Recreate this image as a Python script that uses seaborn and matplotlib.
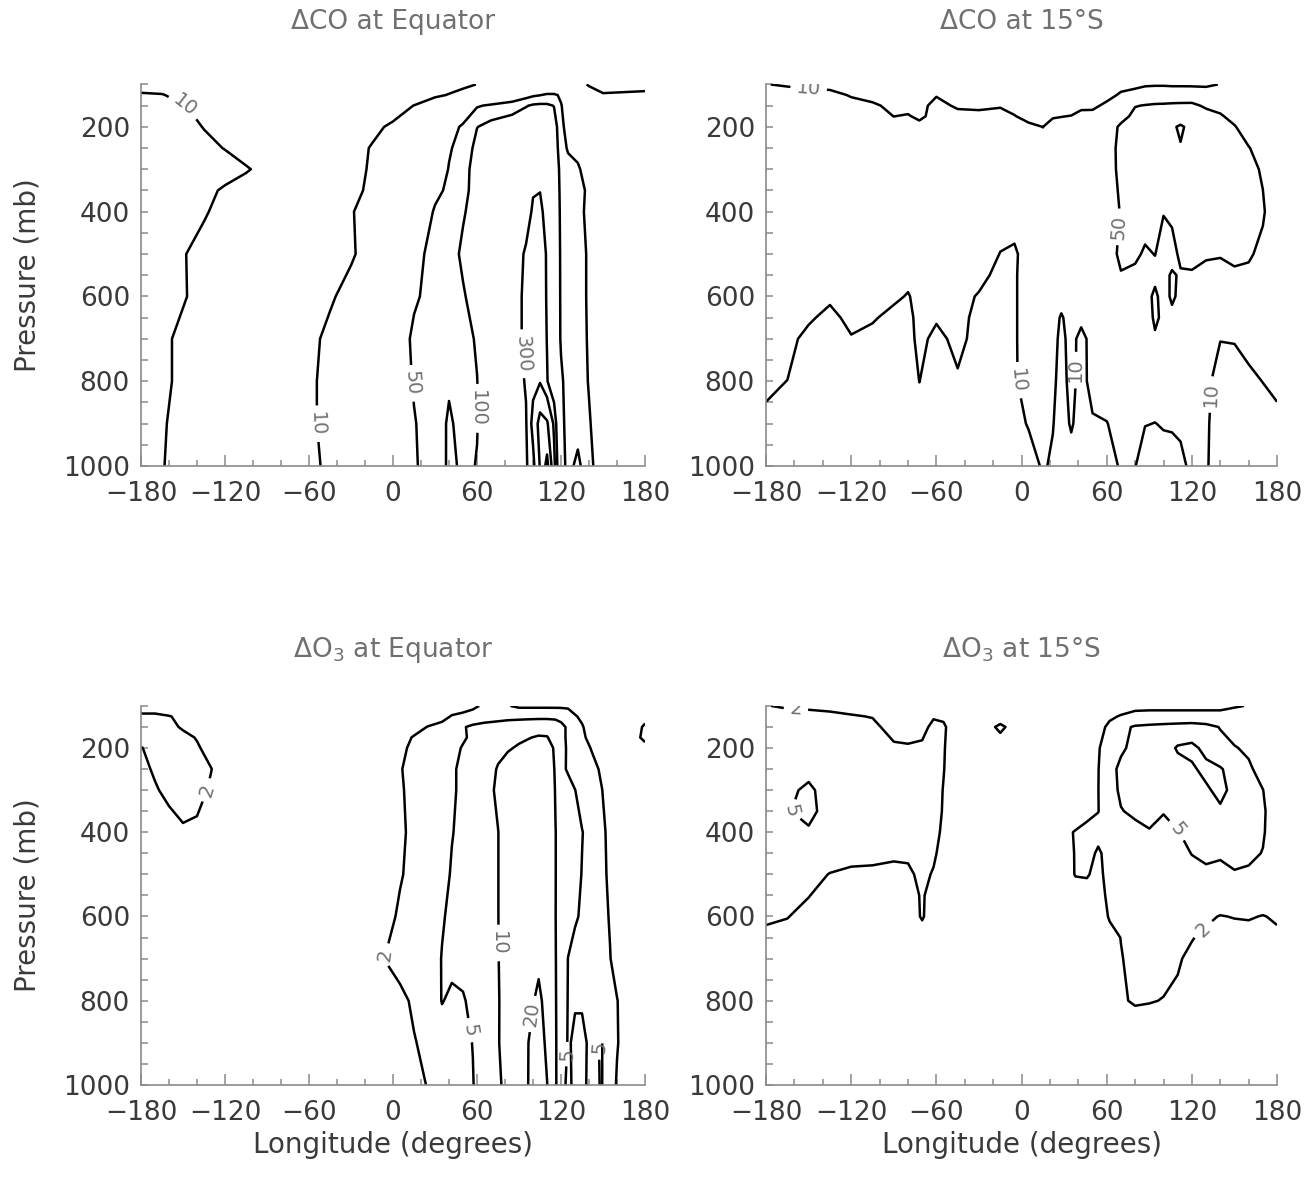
import numpy as np
import matplotlib
matplotlib.use("Agg")
import matplotlib.pyplot as plt
from matplotlib.ticker import FixedLocator, MultipleLocator
import seaborn as sns

# ---------------------------------------------------------------------------
# Delta CO along the Equator (ppbv), longitude x pressure section
# ---------------------------------------------------------------------------
lon_co_eq = [-180, -165, -150, -135, -120, -105, -90, -60, -45, -30, -15, 0, 15, 30,
             40, 50, 60, 70, 85, 95, 100, 105, 110, 115, 120, 125, 132, 140, 150, 180]
pres_co_eq = [100, 125, 150, 200, 250, 300, 350, 400, 500, 600, 700, 800, 900, 1000]
co_eq = [
    [7, 7, 6, 6, 6, 6, 6, 5, 5, 5, 5, 5, 6, 6, 7, 8, 10.2, 13, 14, 18, 20, 22, 22, 18, 14, 13, 12, 9.5, 8, 8.5],
    [11, 10.4, 8, 7, 7, 7, 7, 6, 6, 6, 6.5, 7, 7.5, 8.5, 10.5, 14, 18, 22, 28, 38, 45, 49, 55, 56, 45, 30, 18, 13, 10.5, 11],
    [14, 12, 10.3, 8.5, 7.5, 7, 7, 7, 7, 7, 7.5, 8, 10.1, 18, 28, 40, 47, 55, 70, 95, 110, 115, 112, 98, 52, 35, 25, 20, 16, 14],
    [16, 14, 12, 9.8, 8, 8, 7, 7, 7.5, 8, 9, 10.8, 17, 30, 45, 52, 98, 130, 160, 200, 230, 240, 220, 130, 70, 30, 25, 22, 20, 16],
    [16, 15, 13, 11.5, 9.8, 8, 7, 7, 7.5, 8.5, 10.3, 14, 22, 36, 48, 58, 130, 160, 190, 220, 250, 260, 240, 140, 75, 45, 40, 30, 25, 16],
    [17, 16, 15, 14, 12.5, 10.5, 8.5, 7, 7.5, 8.5, 10.6, 15, 24, 38, 51, 80, 130, 170, 210, 240, 270, 280, 250, 150, 85, 70, 55, 35, 25, 17],
    [17, 16, 14, 11.5, 9.3, 8, 7.5, 7, 7.5, 8.8, 11, 16, 26, 44, 55, 88, 120, 180, 230, 270, 295, 298, 260, 155, 88, 75, 60, 45, 28, 17],
    [17, 15, 13, 10.5, 8.5, 7.5, 7, 7, 7.5, 9.7, 12, 17, 30, 53, 62, 95, 125, 190, 250, 270, 310, 320, 270, 160, 90, 80, 65, 40, 28, 17],
    [16, 13, 10.3, 8.5, 7.5, 7, 7, 7, 8, 9.5, 12, 22, 42, 60, 80, 110, 150, 200, 260, 310, 350, 360, 290, 170, 92, 80, 68, 45, 30, 16],
    [16, 13, 10.4, 8.5, 7.5, 7, 7, 8, 9.5, 11.5, 15, 25, 46, 62, 78, 95, 125, 190, 260, 320, 370, 380, 290, 170, 93, 80, 68, 45, 30, 16],
    [15, 11, 9, 8, 7.5, 7, 7, 9, 11, 15, 22, 32, 56, 65, 75, 85, 105, 180, 260, 320, 400, 420, 295, 170, 94, 80, 70, 46, 30, 15],
    [15, 11, 9, 8, 7.5, 7, 7, 9.2, 11.5, 15, 21, 30, 53, 68, 92, 85, 99, 150, 240, 310, 430, 480, 310, 200, 110, 80, 70, 48, 32, 15],
    [15, 10.5, 8.5, 8, 7.5, 7, 7, 9.2, 11.5, 14, 19, 28, 48, 70, 110, 80, 98, 140, 220, 290, 600, 1300, 1100, 450, 120, 80, 75, 53, 32, 15],
    [15, 10.5, 7, 6, 6, 6, 6, 8, 12, 16, 22, 30, 48, 60, 115, 90, 102, 150, 200, 280, 420, 1050, 2500, 600, 140, 80, 120, 60, 33, 15],
]
co_levels = [10, 50, 100, 300, 500, 1000, 2000]
co_eq_labelled = [10, 50, 100, 300]

# ---------------------------------------------------------------------------
# Delta CO at 15S (ppbv); one vertical profile per longitude
# ---------------------------------------------------------------------------
lon_co_15s = [-180, -165, -150, -135, -120, -105, -90, -80, -72, -60, -45, -30, -15, -5, 5, 15, 22, 28,
              35, 42, 50, 60, 70, 80, 87, 94, 100, 106, 112, 120, 130, 140, 150, 160, 170, 180]
pres_co_15s = [100, 125, 150, 175, 200, 250, 300, 400, 500, 550, 600, 650, 700, 800, 900, 1000]
co_15s_profiles = [
    [10.5, 15, 20, 22, 22, 22, 22, 22, 22, 22, 22, 21, 20, 14, 7, 4],
    [8.4, 20, 22, 22, 22, 22, 22, 22, 22, 22, 22, 21, 20, 9.8, 5, 4],
    [6.3, 20, 22, 22, 22, 22, 22, 22, 22, 22, 20, 14.3, 5, 4, 4, 4],
    [5, 19, 22, 22, 22, 22, 22, 22, 22, 22, 16, 5, 4, 4, 4, 4],
    [5, 8.4, 20, 22, 22, 22, 22, 22, 22, 22, 20, 20, 8.4, 5, 4, 4],
    [5, 5, 13.8, 20, 22, 22, 22, 22, 22, 22, 20, 12.9, 5, 4, 4, 4],
    [4, 5, 6, 9.8, 20, 22, 22, 22, 22, 20, 15.8, 5, 4, 4, 4, 4],
    [4, 5, 5, 11.9, 20, 22, 22, 22, 22, 20, 8.4, 5, 4, 4, 4, 4],
    [4, 4, 5, 6.3, 20, 22, 22, 22, 22, 22, 22, 22, 20, 10.2, 5, 4],
    [5, 8.7, 20, 22, 22, 22, 22, 22, 22, 22, 20, 13.4, 5, 4, 4, 4],
    [4, 5, 7.2, 20, 22, 22, 22, 22, 22, 22, 22, 22, 20, 7.4, 5, 4],
    [4, 5, 6, 20, 22, 22, 22, 22, 22, 20, 8.2, 5, 4, 4, 4, 4],
    [4, 5, 8.4, 20, 22, 22, 22, 20, 9.6, 5, 4, 4, 4, 4, 4, 4],
    [4, 5, 5, 11, 20, 22, 22, 20, 8, 8.5, 8.5, 8.5, 8.5, 8.5, 6, 4],
    [4, 4, 5, 5, 15.8, 22, 22, 22, 20, 20, 20, 20, 20, 18, 11.3, 5],
    [4, 4, 5, 5, 9.8, 20, 22, 22, 22, 22, 22, 20, 20, 18, 15, 12],
    [4, 4, 5, 8.4, 20, 22, 22, 22, 22, 22, 22, 20, 20, 15, 10.8, 8],
    [4, 4, 5, 9.5, 20, 22, 22, 22, 22, 22, 20, 8.4, 6, 5, 5, 5],
    [4, 4, 5, 10.5, 20, 22, 22, 22, 22, 22, 22, 20, 20, 18, 12, 5],
    [4, 4, 6, 20, 22, 22, 22, 22, 22, 22, 22, 18, 5, 5, 5, 4],
    [4, 4, 6.3, 20, 22, 22, 22, 22, 22, 22, 22, 22, 22, 20, 8, 4],
    [4, 5, 15.8, 20, 28, 35, 38, 35, 35, 30, 25, 22, 22, 20, 9.6, 5],
    [5, 13.5, 22, 35, 60, 62, 58, 52, 58, 48, 35, 25, 22, 20, 16, 12],
    [6.3, 20, 48, 65, 75, 80, 80, 70, 58, 42, 30, 25, 22, 20, 18, 10.5],
    [8, 28, 52, 72, 82, 86, 84, 72, 45, 38, 35, 30, 25, 20, 10.5, 5],
    [8.5, 30, 55, 75, 85, 88, 86, 75, 51, 40, 60, 58, 45, 20, 9.8, 5],
    [8.5, 30, 56, 78, 90, 92, 88, 52, 35, 38, 35, 42, 35, 20, 11, 6],
    [8, 30, 58, 80, 95, 95, 90, 62, 35, 56, 58, 40, 30, 20, 12, 5],
    [7.9, 32, 58, 82, 105, 98, 92, 80, 62, 45, 40, 30, 25, 20, 13, 7],
    [7.7, 33, 58, 80, 90, 96, 92, 82, 64, 46, 35, 28, 24, 20, 18, 14],
    [7.9, 22, 45, 65, 78, 85, 88, 80, 55, 40, 30, 22, 18, 15, 13, 12],
    [10.5, 18, 38, 55, 70, 80, 85, 80, 52, 42, 28, 18, 10.5, 5, 4, 4],
    [12, 16, 22, 38, 53, 68, 75, 78, 58, 45, 28, 18, 11, 5, 4, 4],
    [12, 16, 20, 25, 32, 52, 65, 72, 56, 42, 25, 18, 14, 8, 5, 4],
    [12, 16, 20, 22, 25, 35, 45, 56, 40, 30, 24, 20, 16, 10.2, 6, 4],
    [11, 15, 20, 22, 22, 22, 23, 25, 24, 22, 22, 21, 20, 14, 7, 4],
]
co_15s_levels = [10, 50, 100]
co_15s_labelled = [10, 50]

# ---------------------------------------------------------------------------
# Delta O3 along the Equator (ppbv)
# ---------------------------------------------------------------------------
lon_o3_eq = [-180, -170, -160, -150, -140, -130, -120, -60, -15, -5, 5, 15, 25, 35, 42, 50, 57,
             65, 75, 82, 90, 97, 104, 110, 116, 120, 125, 130, 135, 142, 149, 155, 160, 170, 180]
pres_o3_eq = [100, 125, 150, 175, 200, 250, 300, 400, 500, 600, 700, 800, 900, 1000]
o3_eq = [
    [1, 1, 1, 1, 1, 1, 1, 1, 1, 1, 1, 1, 1, 1, 1, 1, 1.5, 2.5, 2.5, 2.1, 1.7, 1.7, 1.7, 1.7, 1.7, 1.7, 1.7, 1.6, 1.5, 1.2, 1, 1, 1, 1, 1],
    [2.6, 2.6, 2.1, 1.6, 1, 1, 1, 1, 1, 1, 1, 1, 1, 1.3, 2.2, 3, 3.5, 3.8, 4, 4.2, 4.3, 4.3, 4.3, 4.3, 4.2, 4, 3.2, 2.1, 1.8, 1.3, 1, 1, 1, 1, 1.5],
    [2.8, 2.8, 2.5, 1.8, 1.2, 1, 1, 1, 1, 1, 1, 1.3, 2.1, 3, 3.8, 4.8, 5.5, 6, 6.5, 6.8, 7, 7.5, 8, 8, 7.5, 6, 4.5, 3.5, 2.1, 1.5, 1, 1, 1, 1.2, 2.3],
    [3, 3, 2.8, 2.5, 1.9, 1.3, 1, 1, 1, 1, 1.3, 2.2, 3, 3.5, 4, 4.7, 5.5, 6.5, 7.5, 8.5, 9.3, 9.8, 10.5, 10.3, 8, 6, 4.5, 3.5, 2.2, 1.7, 1.2, 1, 1, 1.3, 2.5],
    [1.9, 2.8, 3, 3, 2.2, 1.5, 1, 1, 1, 1, 1.6, 2.5, 3.2, 3.6, 4.3, 5.2, 6, 7, 8.5, 9.6, 10.5, 11.5, 12, 11.5, 9.5, 6.5, 4.5, 3.5, 2.7, 1.9, 1.3, 1, 1, 1, 1.5],
    [1.5, 2.3, 2.9, 3, 2.8, 2.05, 1.3, 1, 1, 1.2, 1.9, 2.6, 3.2, 3.8, 4.7, 5.5, 6.2, 7.2, 10.5, 12, 13, 14, 14.5, 14, 9.5, 6, 4.6, 3.8, 3.3, 2.5, 1.8, 1.2, 1, 1, 1],
    [1.2, 1.8, 2.6, 2.9, 2.6, 1.8, 1.2, 1, 1, 1.2, 1.8, 2.6, 3.2, 3.8, 4.7, 5.5, 6.3, 8, 11, 13, 14, 15, 15, 14, 9.8, 8, 6.5, 5.05, 4, 2.7, 2.05, 1.5, 1.1, 1, 1],
    [1, 1, 1.3, 1.8, 1.7, 1.2, 1, 1, 1, 1.1, 1.7, 2.5, 3.2, 4, 4.9, 5.6, 6.5, 8, 9.9, 13, 14.5, 15, 15, 14, 10.1, 8.5, 7, 6, 5.1, 4, 2.3, 1.7, 1.2, 1, 1],
    [1, 1, 1, 1, 1, 1, 1, 1, 1, 1.2, 1.85, 2.6, 3.2, 4.3, 5.2, 6, 7, 8, 9.9, 13, 15, 16, 16, 15, 10.1, 8.5, 7, 6, 4.9, 3.8, 2.3, 1.8, 1.2, 1, 1],
    [1, 1, 1, 1, 1, 1, 1, 1, 1.1, 1.5, 2.3, 2.8, 3.3, 4.8, 5.5, 6.2, 7, 8, 9.9, 13, 15, 17, 17, 16, 10.1, 8, 6.5, 5.4, 4.6, 3.8, 2.5, 1.9, 1.3, 1, 1],
    [1, 1, 1, 1, 1, 1, 1, 1, 1.5, 2.1, 2.8, 3.2, 3.8, 5.1, 5.6, 5.8, 6.5, 8, 9.8, 13, 15, 17, 17.5, 17, 10.2, 8, 4.95, 4, 3.6, 3.2, 2.6, 2.05, 1.5, 1, 1],
    [1, 1, 1, 1, 1, 1, 1, 1, 1, 1.2, 1.6, 2.3, 3.5, 5.1, 4.6, 4.8, 5.6, 7, 9.6, 13, 15, 17, 23, 16, 10.3, 8, 4.85, 4.8, 4.8, 3.5, 3, 2.5, 2.05, 1.2, 1],
    [1, 1, 1, 1, 1, 1, 1, 1, 1, 1, 1.3, 1.9, 2.5, 4, 4.2, 4.5, 5.05, 7, 9.7, 12.5, 14, 20.3, 26, 18, 10.3, 8.5, 4.7, 5.5, 5.5, 4.5, 5.2, 3, 2.1, 1.2, 1],
    [1, 1, 1, 1, 1, 1, 1, 1, 1, 1, 1.2, 1.5, 2.1, 3, 3.8, 4.3, 4.9, 6.5, 9.3, 11.5, 14, 20.5, 28, 20.3, 11, 6, 4.5, 5.6, 5.6, 4.3, 5.2, 3, 1.85, 1.2, 1],
]
o3_eq_levels = [2, 5, 10, 20]
o3_eq_labelled = [2, 5, 10, 20]

# ---------------------------------------------------------------------------
# Delta O3 at 15S (ppbv)
# ---------------------------------------------------------------------------
lon_o3_15s = [-180, -165, -150, -135, -120, -105, -90, -80, -70, -62, -55, -45, -30, -15, 0, 20,
              38, 46, 54, 62, 70, 80, 90, 100, 110, 120, 130, 140, 150, 160, 170, 180]
pres_o3_15s = [100, 125, 150, 200, 250, 300, 350, 400, 450, 500, 550, 600, 650, 700, 800, 900, 1000]
o3_15s = [
    [2.05, 1.85, 1.8, 1.7, 1.6, 1.5, 1.2, 1.2, 1.3, 1.4, 1.3, 1.2, 1.2, 1.2, 1.2, 1.2, 1.2, 1.2, 1.2, 1.3, 1.5, 1.7, 1.7, 1.7, 1.7, 1.7, 1.7, 1.7, 1.9, 2.05, 2.2, 2.2],
    [2.6, 2.5, 2.4, 2.3, 2.1, 1.95, 1.5, 1.4, 1.5, 1.9, 1.8, 1.2, 1.2, 1.4, 1.2, 1.2, 1.2, 1.2, 1.3, 1.8, 2.1, 2.4, 2.5, 2.5, 2.5, 2.5, 2.5, 2.5, 2.6, 2.7, 2.7, 2.6],
    [3, 3, 3, 3, 2.8, 2.3, 1.6, 1.5, 1.7, 2.3, 2.2, 1.3, 1.3, 2.3, 1.3, 1.2, 1.2, 1.3, 1.6, 2.3, 4, 5.5, 6, 6.5, 7, 7.5, 6.5, 4.8, 3.8, 3.5, 3.3, 3],
    [3.2, 3.3, 3.4, 3.3, 3.1, 3, 2.2, 2.15, 2.2, 2.6, 2.1, 1.3, 1.2, 1.4, 1.2, 1.2, 1.3, 1.5, 1.9, 2.8, 4.5, 6, 7, 8, 10.5, 11, 9, 6.5, 5.2, 4.5, 3.5, 3.2],
    [3.3, 3.8, 4.3, 3.8, 3.3, 3.1, 3, 3, 2.9, 2.6, 2.05, 1.3, 1.2, 1.2, 1.2, 1.2, 1.3, 1.5, 1.95, 4, 5.8, 7, 7.5, 8, 8.5, 9.5, 11, 10.5, 8, 5.5, 4, 3.3],
    [3.5, 4.5, 5.5, 4, 3.3, 3.1, 3, 3, 2.9, 2.6, 1.95, 1.3, 1.2, 1.2, 1.2, 1.2, 1.3, 1.6, 1.98, 3.5, 5.8, 6.5, 7, 7.2, 7.5, 8.5, 9.5, 11, 9, 6.5, 5.05, 3.5],
    [3.5, 4.8, 6, 3.8, 3.3, 3.1, 3, 3, 2.9, 2.6, 1.9, 1.3, 1.2, 1.2, 1.2, 1.2, 1.3, 1.6, 1.97, 3, 4.8, 5.8, 5.5, 5.2, 6, 7, 8, 9.5, 7.5, 6.5, 5.4, 3.6],
    [3.3, 4.5, 4.6, 3.5, 3.2, 3, 2.8, 2.8, 2.7, 2.4, 1.8, 1.3, 1.2, 1.2, 1.2, 1.3, 2.1, 2.5, 2.5, 3, 3.5, 4, 4.9, 4, 4.9, 5.8, 7, 8, 7, 6.5, 5.3, 3.5],
    [3, 3.2, 3.3, 2.8, 2.4, 2.3, 2.3, 2.2, 2.5, 2.2, 1.6, 1.3, 1.2, 1.2, 1.2, 1.3, 2.05, 2.6, 1.8, 2.6, 3, 3.2, 3.5, 3.7, 4, 5.1, 5.6, 5.2, 5.8, 5.6, 4.9, 3.3],
    [2.8, 2.8, 2.5, 1.95, 1.8, 1.8, 1.6, 1.8, 2.3, 1.9, 1.2, 1.2, 1.2, 1.2, 1.2, 1.2, 2.05, 2.1, 1.7, 2.5, 2.8, 3, 3.2, 3.4, 3.6, 4, 4.5, 4.6, 4.8, 4.6, 4, 3],
    [2.5, 2.4, 2.05, 1.5, 1.3, 1.3, 1.2, 1.4, 2.2, 1.4, 1.2, 1.2, 1.2, 1.2, 1.2, 1.2, 1.6, 1.6, 1.6, 2.3, 2.6, 2.8, 2.9, 3, 3, 3, 3, 3, 3, 3, 2.9, 2.6],
    [2.15, 2.05, 1.6, 1.2, 1.2, 1.2, 1.2, 1.2, 2.2, 1.2, 1.2, 1.2, 1.2, 1.2, 1.2, 1.2, 1.3, 1.4, 1.5, 2.1, 2.4, 2.5, 2.5, 2.5, 2.5, 2.4, 2.2, 1.95, 2.05, 2.1, 1.95, 2.15],
    [1.8, 1.6, 1.3, 1.2, 1.2, 1.2, 1.2, 1.2, 1.3, 1.2, 1.2, 1.2, 1.2, 1.2, 1.2, 1.2, 1.2, 1.3, 1.5, 1.7, 2.02, 2.3, 2.4, 2.4, 2.3, 2.05, 1.8, 1.5, 1.6, 1.6, 1.6, 1.8],
    [1.3, 1.2, 1.2, 1.2, 1.2, 1.2, 1.2, 1.2, 1.2, 1.2, 1.2, 1.2, 1.2, 1.2, 1.2, 1.2, 1.2, 1.3, 1.4, 1.6, 1.95, 2.3, 2.3, 2.3, 2.1, 1.8, 1.4, 1.3, 1.3, 1.3, 1.3, 1.3],
    [1.2, 1.2, 1.2, 1.2, 1.2, 1.2, 1.2, 1.2, 1.2, 1.2, 1.2, 1.2, 1.2, 1.2, 1.2, 1.2, 1.2, 1.2, 1.2, 1.2, 1.9, 2.1, 2.05, 1.97, 1.85, 1.4, 1.3, 1.2, 1.2, 1.2, 1.2, 1.2],
    [1.2, 1.2, 1.2, 1.2, 1.2, 1.2, 1.2, 1.2, 1.2, 1.2, 1.2, 1.2, 1.2, 1.2, 1.2, 1.2, 1.2, 1.2, 1.2, 1.2, 1.3, 1.4, 1.4, 1.3, 1.3, 1.2, 1.2, 1.2, 1.2, 1.2, 1.2, 1.2],
    [1.2, 1.2, 1.2, 1.2, 1.2, 1.2, 1.2, 1.2, 1.2, 1.2, 1.2, 1.2, 1.2, 1.2, 1.2, 1.2, 1.2, 1.2, 1.2, 1.2, 1.2, 1.2, 1.2, 1.2, 1.2, 1.2, 1.2, 1.2, 1.2, 1.2, 1.2, 1.2],
]
o3_15s_levels = [2, 5, 10]
o3_15s_labelled = [2, 5]

# ---------------------------------------------------------------------------
# Styling
# ---------------------------------------------------------------------------
sns.set_theme(style="ticks")
plt.rcParams["font.family"] = ["DejaVu Sans"]
plt.rcParams["mathtext.default"] = "regular"

AXIS_GRAY = "#8a8a8a"
TEXT_DARK = "#3a3a3a"
TEXT_GRAY = "#707070"

fig = plt.figure(figsize=(13.14, 11.86), dpi=100)


def style_axes(ax):
    ax.set_xlim(-180, 180)
    ax.set_ylim(1000, 100)
    ax.xaxis.set_major_locator(FixedLocator([-180, -120, -60, 0, 60, 120, 180]))
    ax.xaxis.set_minor_locator(MultipleLocator(20))
    ax.yaxis.set_major_locator(FixedLocator([200, 400, 600, 800, 1000]))
    ax.yaxis.set_minor_locator(MultipleLocator(50))
    ax.tick_params(axis="x", which="major", direction="in", length=8, width=1.1,
                   color=AXIS_GRAY, labelsize=19, labelcolor=TEXT_DARK, pad=11)
    ax.tick_params(axis="x", which="minor", direction="in", length=4, width=1.1,
                   color=AXIS_GRAY)
    ax.tick_params(axis="y", which="both", direction="in", length=5, width=1.1,
                   color=AXIS_GRAY, labelsize=19, labelcolor=TEXT_DARK, pad=8)
    sns.despine(ax=ax)
    for side in ("left", "bottom"):
        ax.spines[side].set_color(AXIS_GRAY)
        ax.spines[side].set_linewidth(1.2)
    ax.set_facecolor("white")


def draw_section(ax, lon, pres, field, levels, labelled, label_at):
    z = np.log10(np.asarray(field, dtype=float))
    cs = ax.contour(lon, pres, z, levels=np.log10(levels),
                    colors="black", linewidths=1.8)
    lab = [lv for lv in cs.levels if round(10 ** lv) in labelled]
    ax.clabel(cs, levels=lab, manual=label_at, inline=True, inline_spacing=6,
              fmt=lambda v: f"{10 ** v:.0f}", fontsize=14, colors=TEXT_GRAY)


panels = [
    dict(rect=[0.1073, 0.6071, 0.3836, 0.3217], lon=lon_co_eq, pres=pres_co_eq,
         field=np.array(co_eq), levels=co_levels, labelled=co_eq_labelled,
         label_at=[(-148, 144), (-53, 900), (14, 805), (61, 864), (94, 735)],
         title="ΔCO at Equator", ylabel=True, xlabel=False),
    dict(rect=[0.5830, 0.6071, 0.3889, 0.3217], lon=lon_co_15s, pres=pres_co_15s,
         field=np.array(co_15s_profiles).T, levels=co_15s_levels, labelled=co_15s_labelled,
         label_at=[(-150, 109), (-6, 798), (42, 774), (131, 831), (64, 435)],
         title="ΔCO at 15°S", ylabel=False, xlabel=False),
    dict(rect=[0.1073, 0.0852, 0.3836, 0.3196], lon=lon_o3_eq, pres=pres_o3_eq,
         field=np.array(o3_eq), levels=o3_eq_levels, labelled=o3_eq_labelled,
         label_at=[(-132, 301), (-9, 688), (55, 870), (74.5, 663), (92, 828),
                   (125, 927), (147, 911)],
         title="ΔO$_3$ at Equator", ylabel=True, xlabel=True),
    dict(rect=[0.5830, 0.0852, 0.3889, 0.3196], lon=lon_o3_15s, pres=pres_o3_15s,
         field=np.array(o3_15s), levels=o3_15s_levels, labelled=o3_15s_labelled,
         label_at=[(-159, 109), (-165, 346), (111, 391), (125.6, 622)],
         title="ΔO$_3$ at 15°S", ylabel=False, xlabel=True),
]

for p in panels:
    ax = fig.add_axes(p["rect"])
    style_axes(ax)
    draw_section(ax, p["lon"], p["pres"], p["field"], p["levels"], p["labelled"], p["label_at"])
    x0, y0, w, h = p["rect"]
    cx = x0 + w / 2
    title_y = 0.9815 if y0 > 0.5 else 0.452
    fig.text(cx, title_y, p["title"], ha="center", va="center", fontsize=19, color=TEXT_GRAY)
    if p["ylabel"]:
        fig.text(0.0213, y0 + h / 2, "Pressure (mb)", rotation=90, ha="center", va="center",
                 fontsize=20, color=TEXT_DARK)
    if p["xlabel"]:
        fig.text(cx, 0.0346, "Longitude (degrees)", ha="center", va="center",
                 fontsize=20, color=TEXT_DARK)

fig.savefig("out.png", dpi=100, facecolor="white")
